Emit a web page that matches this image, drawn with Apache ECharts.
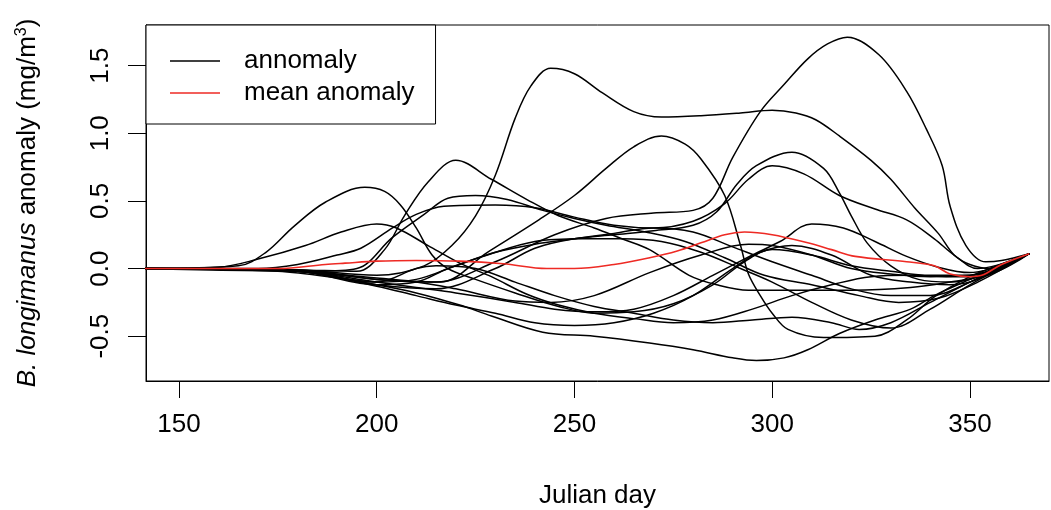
<!DOCTYPE html>
<html>
<head>
<meta charset="utf-8">
<script src="https://cdn.jsdelivr.net/npm/echarts@6/dist/echarts.min.js"></script>
<style>
  html, body { margin: 0; padding: 0; background: #fff; }
  #main { width: 1051px; height: 510px; }
</style>
</head>
<body>
<div id="main"></div>
<script>
// x ticks / y ticks
var dayTicks = [150, 200, 250, 300, 350];
var anomTicks = [-0.5, 0, 0.5, 1, 1.5];

// individual anomaly curves, [julian day, anomaly]
var curveA = [[141,0],[180,-0.01],[200,-0.05],[212,0.02],[219,0.17],[225,0.39],[230,0.69],[235,1.11],[239,1.35],[244,1.48],[250,1.44],[257,1.3],[265,1.16],[272,1.12],[282,1.13],[292,1.15],[300,1.17],[306,1.15],[311,1.1],[317,0.98],[325,0.8],[330,0.66],[336,0.45],[342,0.26],[346,0.1],[350,0.03],[355,0.0],[365,0.11]];
var curveB = [[141,0],[180,-0.01],[200,-0.08],[215,-0.1],[230,0.05],[245,0.25],[258,0.37],[270,0.41],[280,0.43],[285,0.52],[290,0.82],[297,1.16],[303,1.36],[309,1.55],[314,1.66],[319,1.71],[327,1.58],[334,1.31],[339,1.03],[343,0.76],[345,0.46],[349,0.17],[354,0.05],[358,0.06],[365,0.11]];
var curveC = [[141,0],[180,-0.02],[200,-0.07],[216,-0.1],[228,0.12],[241,0.36],[250,0.54],[258,0.74],[265,0.9],[272,0.98],[278,0.92],[282,0.81],[288,0.54],[292,0.17],[294,-0.04],[297,-0.2],[300,-0.33],[304,-0.45],[313,-0.51],[326,-0.5],[334,-0.38],[341,-0.21],[350,-0.06],[355,0.0],[365,0.11]];
var curveD = [[141,0],[165,0.02],[172,0.12],[179,0.31],[187,0.49],[197,0.6],[202,0.57],[206,0.47],[210,0.3],[214,0.1],[218,0.0],[225,-0.08],[235,-0.18],[246,-0.28],[255,-0.33],[265,-0.32],[275,-0.26],[285,-0.12],[293,0.05],[300,0.14],[310,0.1],[320,0.02],[330,-0.02],[340,-0.05],[350,-0.05],[365,0.11]];
var curveE = [[141,0],[160,0.01],[170,0.07],[182,0.17],[191,0.27],[200,0.33],[205,0.3],[213,0.17],[221,0.04],[229,-0.06],[238,-0.19],[246,-0.27],[255,-0.33],[265,-0.37],[275,-0.4],[285,-0.38],[295,-0.3],[305,-0.2],[315,-0.12],[325,-0.06],[335,-0.05],[345,-0.06],[352,-0.06],[365,0.11]];
var curveF = [[141,0],[180,-0.01],[195,-0.02],[202,0.14],[207,0.39],[213,0.64],[220,0.8],[229,0.66],[238,0.51],[246,0.39],[255,0.3],[262,0.22],[269,0.14],[279,-0.05],[286,-0.12],[294,-0.16],[305,-0.16],[320,-0.16],[335,-0.14],[345,-0.1],[352,-0.06],[365,0.11]];
var curveG = [[141,0],[185,-0.02],[195,0.0],[204,0.23],[212,0.4],[218,0.52],[225,0.54],[233,0.51],[242,0.43],[250,0.37],[258,0.32],[268,0.27],[278,0.2],[288,0.08],[298,-0.05],[310,-0.12],[322,-0.2],[332,-0.25],[342,-0.22],[352,-0.1],[365,0.11]];
var curveH = [[141,0],[170,0.0],[180,0.03],[190,0.1],[196,0.15],[204,0.3],[210,0.4],[217,0.46],[230,0.47],[240,0.45],[250,0.38],[260,0.32],[270,0.3],[280,0.35],[288,0.48],[294,0.66],[300,0.76],[308,0.7],[317,0.54],[326,0.44],[334,0.36],[341,0.22],[346,0.1],[352,0.0],[365,0.11]];
var curveI = [[141,0],[180,-0.02],[200,-0.12],[215,-0.15],[230,0.0],[240,0.15],[250,0.22],[260,0.25],[270,0.28],[280,0.32],[286,0.42],[291,0.62],[296,0.76],[305,0.86],[313,0.74],[317,0.56],[320,0.39],[324,0.19],[330,0.02],[337,-0.08],[345,-0.1],[352,-0.06],[365,0.11]];
var curveJ = [[141,0],[175,-0.02],[190,-0.07],[200,-0.12],[210,-0.18],[221,-0.27],[229,-0.35],[242,-0.47],[255,-0.5],[269,-0.55],[280,-0.6],[290,-0.66],[296,-0.68],[303,-0.66],[309,-0.6],[317,-0.48],[326,-0.38],[335,-0.3],[341,-0.2],[350,-0.08],[365,0.11]];
var curveK = [[141,0],[180,-0.02],[200,-0.1],[210,-0.14],[220,-0.18],[235,-0.25],[245,-0.3],[255,-0.32],[265,-0.3],[275,-0.2],[285,-0.05],[295,0.1],[302,0.2],[310,0.33],[318,0.3],[326,0.2],[334,0.09],[342,0.01],[350,-0.03],[365,0.11]];
var curveL = [[141,0],[180,-0.02],[200,-0.08],[210,-0.1],[220,-0.15],[235,-0.24],[244,-0.25],[255,-0.2],[269,-0.03],[282,0.1],[294,0.18],[300,0.17],[310,0.1],[320,0.0],[330,-0.04],[340,-0.06],[350,-0.05],[365,0.11]];
var curveM = [[141,0],[180,-0.02],[200,-0.1],[210,0.0],[215,0.02],[225,0.0],[235,-0.1],[245,-0.2],[255,-0.28],[265,-0.33],[275,-0.38],[285,-0.4],[295,-0.38],[305,-0.36],[315,-0.4],[322,-0.45],[330,-0.4],[340,-0.25],[350,-0.1],[365,0.11]];
var curveN = [[141,0],[180,-0.02],[200,-0.13],[210,-0.2],[220,-0.27],[230,-0.33],[240,-0.4],[250,-0.42],[260,-0.4],[270,-0.33],[280,-0.2],[290,0.0],[297,0.12],[305,0.17],[315,0.1],[325,-0.05],[335,-0.1],[345,-0.12],[352,-0.08],[365,0.11]];
var curveO = [[141,0],[180,-0.02],[200,-0.1],[210,-0.08],[220,0.02],[230,0.12],[240,0.18],[250,0.22],[260,0.26],[270,0.3],[280,0.27],[290,0.16],[300,0.05],[310,-0.05],[320,-0.15],[330,-0.2],[340,-0.2],[350,-0.1],[365,0.11]];
var curveP = [[141,0],[180,-0.02],[200,-0.12],[210,-0.1],[218,0.0],[228,0.1],[240,0.2],[252,0.22],[262,0.22],[272,0.2],[282,0.12],[292,0.0],[300,-0.1],[310,-0.25],[320,-0.38],[330,-0.44],[340,-0.3],[350,-0.12],[365,0.11]];

var meanCurve = [[141,0],[175,0],[187,0.03],[192,0.04],[200,0.055],[210,0.06],[221,0.055],[232,0.035],[243,0.0],[250,0.0],[260,0.03],[269,0.08],[276,0.13],[282,0.19],[288,0.25],[293,0.27],[300,0.25],[309,0.19],[315,0.14],[321,0.09],[334,0.05],[341,0.02],[345,-0.04],[350,-0.06],[353,-0.05],[358,0.03],[365,0.11]];

var curves = [curveA, curveB, curveC, curveD, curveE, curveF, curveG, curveH,
              curveI, curveJ, curveK, curveL, curveM, curveN, curveO, curveP];

var myChart = echarts.init(document.getElementById('main'));

var font = 'Liberation Sans, Arial, Helvetica, sans-serif';

var series = curves.map(function (c) {
  return {
    name: 'annomaly',
    type: 'line',
    data: c,
    smooth: 0.35,
    symbol: 'none',
    color: '#000',
    lineStyle: { color: '#000', width: 1.5 },
    silent: true
  };
});
series.push({
  name: 'mean anomaly',
  type: 'line',
  data: meanCurve,
  smooth: 0.35,
  symbol: 'none',
  color: '#ee2a24',
  lineStyle: { color: '#ee2a24', width: 1.6 },
  silent: true,
  z: 5
});

var option = {
  animation: false,
  backgroundColor: '#fff',
  grid: {
    left: 146, right: 2, top: 25, bottom: 129,
    outerBoundsMode: 'none',
    show: true, borderColor: '#000', borderWidth: 1
  },
  legend: {
    data: ['annomaly', 'mean anomaly'],
    orient: 'vertical',
    left: 146, top: 25,
    padding: [20, 21, 15, 24],
    itemGap: 0,
    itemWidth: 50,
    itemHeight: 1.5,
    icon: 'rect',
    borderColor: '#000',
    borderWidth: 1,
    backgroundColor: '#fff',
    selectedMode: false,
    textStyle: {
      fontFamily: font, fontSize: 26, color: '#000',
      lineHeight: 32, padding: [0, 0, 0, 19]
    }
  },
  xAxis: {
    type: 'value',
    min: 141.67, max: 370,
    name: 'Julian day',
    nameLocation: 'middle',
    nameGap: 102,
    nameTextStyle: { fontFamily: font, fontSize: 26, color: '#000' },
    splitLine: { show: false },
    axisLine: { show: true, onZero: false, lineStyle: { color: '#000', width: 1 } },
    axisTick: { show: true, customValues: dayTicks, length: 17, lineStyle: { color: '#000' } },
    axisLabel: {
      customValues: dayTicks,
      margin: 31,
      fontFamily: font, fontSize: 26, color: '#000'
    }
  },
  yAxis: {
    type: 'value',
    min: -0.831, max: 1.80,
    name: '{i|B. longimanus} anomaly (mg/m{s|3})',
    nameLocation: 'middle',
    nameRotate: 90,
    nameGap: 104,
    nameTextStyle: {
      fontFamily: font, fontSize: 26, color: '#000',
      rich: {
        i: { fontFamily: font, fontSize: 26, fontStyle: 'italic', color: '#000' },
        s: { fontFamily: font, fontSize: 16, color: '#000', verticalAlign: 'top', padding: [0, 0, 12, 0] }
      }
    },
    splitLine: { show: false },
    axisLine: { show: true, onZero: false, lineStyle: { color: '#000', width: 1 } },
    axisTick: { show: true, customValues: anomTicks, length: 18, lineStyle: { color: '#000' } },
    axisLabel: {
      customValues: anomTicks,
      rotate: 90,
      margin: 32,
      fontFamily: font, fontSize: 26, color: '#000',
      formatter: function (v) { return v.toFixed(1); }
    }
  },
  series: series
};

myChart.setOption(option);
</script>
</body>
</html>
